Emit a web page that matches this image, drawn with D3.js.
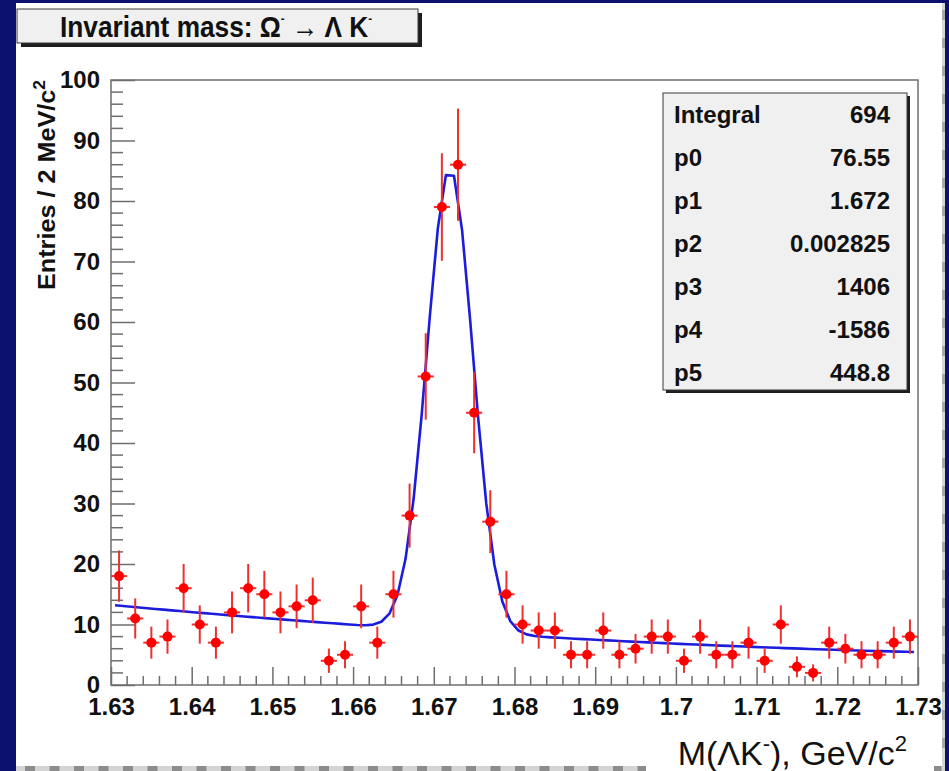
<!DOCTYPE html>
<html><head><meta charset="utf-8">
<script src="https://cdn.jsdelivr.net/npm/d3@7"></script>
<style>
html,body{margin:0;padding:0;background:#0d116e;}
svg{display:block;font-family:"Liberation Sans",Arial,Helvetica,sans-serif;}
</style>
</head><body>
<svg id="c" width="949" height="771"></svg>
<script>
// ---------- data ----------
const massBins = [1.631,1.633,1.635,1.637,1.639,1.641,1.643,1.645,1.647,1.649,
                  1.651,1.653,1.655,1.657,1.659,1.661,1.663,1.665,1.667,1.669,
                  1.671,1.673,1.675,1.677,1.679,1.681,1.683,1.685,1.687,1.689,
                  1.691,1.693,1.695,1.697,1.699,1.701,1.703,1.705,1.707,1.709,
                  1.711,1.713,1.715,1.717,1.719,1.721,1.723,1.725,1.727,1.729];
const entries = [18,11,7,8,16,10,7,12,16,15,
                 12,13,14,4,5,13,7,15,28,51,
                 79,86,45,27,15,10,9,9,5,5,
                 9,5,6,8,8,4,8,5,5,7,
                 4,10,3,2,7,6,5,5,7,8];
const entryErrors = [4.24,3.32,2.65,2.83,4.00,3.16,2.65,3.46,4.00,3.87,
                     3.46,3.61,3.74,2.00,2.24,3.61,2.65,3.87,5.29,7.14,
                     8.89,9.27,6.71,5.20,3.87,3.16,3.00,3.00,2.24,2.24,
                     3.00,2.24,2.45,2.83,2.83,2.00,2.83,2.24,2.24,2.65,
                     2.00,3.16,1.73,1.41,2.65,2.45,2.24,2.24,2.65,2.83];
const binHalfWidth = 0.001;
const fitParams = [76.55, 1.672, 0.002825, 1406, -1586, 448.8]; // gaus(p0,p1,p2)+pol2(p3,p4,p5)
const fitRange = [1.6305, 1.7295];
const fitNpx = 100;
const statLabels = ["Integral","p0","p1","p2","p3","p4","p5"];
const statValues = ["694","76.55","1.672","0.002825","1406","-1586","448.8"];
const xTicks = [1.63,1.64,1.65,1.66,1.67,1.68,1.69,1.70,1.71,1.72,1.73];
const xTickLabels = ["1.63","1.64","1.65","1.66","1.67","1.68","1.69","1.7","1.71","1.72","1.73"];
const yTicks = [0,10,20,30,40,50,60,70,80,90,100];

// ---------- drawing ----------
const svg = d3.select("#c");
const FONT = '"Liberation Sans",Arial,Helvetica,sans-serif';

// page background
svg.append("rect").attr("x",0).attr("y",0).attr("width",949).attr("height",771).attr("fill","#0d116e");
svg.append("rect").attr("x",16).attr("y",3).attr("width",929).attr("height",768).attr("fill","#ffffff");
// right dashed edge
svg.append("line").attr("x1",943.5).attr("x2",943.5).attr("y1",3).attr("y2",766)
  .attr("stroke","#d6d6d6").attr("stroke-width",3);
svg.append("line").attr("x1",943.5).attr("x2",943.5).attr("y1",10).attr("y2",766)
  .attr("stroke","#a8a8a8").attr("stroke-width",3).attr("stroke-dasharray","10,18");
// bottom dashed strip
svg.append("rect").attr("x",16).attr("y",766).attr("width",929).attr("height",5).attr("fill","#d4d4d4");
svg.append("line").attr("x1",25).attr("x2",945).attr("y1",768.5).attr("y2",768.5)
  .attr("stroke","#8c8c8c").attr("stroke-width",5).attr("stroke-dasharray","10,14.5");

const L=111, R=918, T=80, B=685;
const x = d3.scaleLinear().domain([1.63,1.73]).range([L,R]);
const y = d3.scaleLinear().domain([0,100]).range([B,T]);

const axisColor = "#6e6e6e";

// minor ticks
const xMinor = x.ticks(50).filter(v => !xTicks.some(t => Math.abs(t-v)<1e-9));
const yMinor = y.ticks(50).filter(v => !yTicks.some(t => Math.abs(t-v)<1e-9));
svg.append("g").selectAll("line").data(xMinor).join("line")
  .attr("x1",d=>x(d)).attr("x2",d=>x(d)).attr("y1",B).attr("y2",B-9)
  .attr("stroke",axisColor).attr("stroke-width",1.5);
svg.append("g").selectAll("line").data(yMinor).join("line")
  .attr("x1",L).attr("x2",L+12).attr("y1",d=>y(d)).attr("y2",d=>y(d))
  .attr("stroke",axisColor).attr("stroke-width",1.5);

// major axes
const xAxis = d3.axisBottom(x).tickValues(xTicks)
  .tickFormat((d,i)=>xTickLabels[i]).tickSizeInner(-18).tickSizeOuter(0).tickPadding(13);
const gx = svg.append("g").attr("transform",`translate(0,${B})`).call(xAxis);
gx.select(".domain").remove();
gx.selectAll(".tick line").attr("stroke",axisColor).attr("stroke-width",1.5);
gx.selectAll(".tick text").attr("fill","#111").attr("font-size",24).attr("font-weight","bold")
  .attr("font-family",FONT);

const yAxis = d3.axisLeft(y).tickValues(yTicks).tickFormat(d3.format("d"))
  .tickSizeInner(-24).tickSizeOuter(0).tickPadding(11);
const gy = svg.append("g").attr("transform",`translate(${L},0)`).call(yAxis);
gy.select(".domain").remove();
gy.selectAll(".tick line").attr("stroke",axisColor).attr("stroke-width",1.5);
gy.selectAll(".tick text").attr("fill","#111").attr("font-size",24).attr("font-weight","bold")
  .attr("font-family",FONT);

// frame
svg.append("rect").attr("x",L).attr("y",T).attr("width",R-L).attr("height",B-T)
  .attr("fill","none").attr("stroke",axisColor).attr("stroke-width",1.5);

// fit curve
const fitFn = v => fitParams[0]*Math.exp(-0.5*Math.pow((v-fitParams[1])/fitParams[2],2))
                 + fitParams[3] + fitParams[4]*v + fitParams[5]*v*v;
const fitXs = d3.range(fitNpx).map(k => fitRange[0] + k*(fitRange[1]-fitRange[0])/(fitNpx-1));
svg.append("path").datum(fitXs)
  .attr("d", d3.line().x(v=>x(v)).y(v=>y(fitFn(v))))
  .attr("fill","none").attr("stroke","#1c1cdc").attr("stroke-width",2.6).attr("stroke-linejoin","round");

// data points with errors
const pts = massBins.map((m,i)=>({m, n:entries[i], e:entryErrors[i]}));
const gp = svg.append("g");
gp.selectAll("line.v").data(pts).join("line").attr("class","v")
  .attr("x1",d=>x(d.m)).attr("x2",d=>x(d.m)).attr("y1",d=>y(d.n-d.e)).attr("y2",d=>y(d.n+d.e))
  .attr("stroke","#ee3030").attr("stroke-width",2);
gp.selectAll("line.h").data(pts).join("line").attr("class","h")
  .attr("x1",d=>x(d.m-binHalfWidth)).attr("x2",d=>x(d.m+binHalfWidth)).attr("y1",d=>y(d.n)).attr("y2",d=>y(d.n))
  .attr("stroke","#ee3030").attr("stroke-width",2);
gp.selectAll("circle").data(pts).join("circle")
  .attr("cx",d=>x(d.m)).attr("cy",d=>y(d.n)).attr("r",5).attr("fill","#ff0000");

// stats box
const sb = {x:663, y:93, w:244, h:297};
svg.append("rect").attr("x",sb.x+3).attr("y",sb.y+3).attr("width",sb.w).attr("height",sb.h).attr("fill","#1e1e1e");
svg.append("rect").attr("x",sb.x).attr("y",sb.y).attr("width",sb.w).attr("height",sb.h)
  .attr("fill","#f0f0f0").attr("stroke","#3a3a3a").attr("stroke-width",1);
const gs = svg.append("g").attr("font-size",24).attr("font-weight","bold").attr("fill","#111");
statLabels.forEach((lab,i)=>{
  const by = 123 + i*43;
  gs.append("text").attr("x",674).attr("y",by).text(lab);
  gs.append("text").attr("x",890).attr("y",by).attr("text-anchor","end").text(statValues[i]);
});

// title box
svg.append("rect").attr("x",21).attr("y",13).attr("width",401).attr("height",34).attr("fill","#1e1e1e");
svg.append("rect").attr("x",17).attr("y",9).attr("width",401).attr("height",34)
  .attr("fill","#f0f0f0").attr("stroke","#3a3a3a").attr("stroke-width",1);
const tt = svg.append("text").attr("x",60).attr("y",37).attr("font-size",30).attr("font-weight","bold")
  .attr("fill","#111").attr("textLength",312).attr("lengthAdjust","spacingAndGlyphs");
tt.append("tspan").text("Invariant mass: Ω");
tt.append("tspan").attr("font-size",13).attr("dy",-14).text("-");
tt.append("tspan").attr("dy",14).text(" → Λ K");
tt.append("tspan").attr("font-size",13).attr("dy",-14).text("-");

// y axis title
const yt = svg.append("text").attr("transform","translate(55,80) rotate(-90)")
  .attr("text-anchor","end").attr("font-size",23).attr("font-weight","bold").attr("fill","#111")
  .attr("textLength",210).attr("lengthAdjust","spacingAndGlyphs");
yt.append("tspan").text("Entries / 2 MeV/c");
yt.append("tspan").attr("font-size",16).attr("dy",-10).text("2");

// x axis title
svg.append("rect").attr("x",646).attr("y",758).attr("width",288).attr("height",13).attr("fill","#ffffff");
const xt = svg.append("text").attr("x",907).attr("y",765).attr("text-anchor","end")
  .attr("font-size",34).attr("fill","#111");
xt.append("tspan").text("M(ΛK");
xt.append("tspan").attr("font-size",22).attr("dy",-14).text("-");
xt.append("tspan").attr("dy",14).text("), GeV/c");
xt.append("tspan").attr("font-size",22).attr("dy",-14).text("2");
</script>
</body></html>
